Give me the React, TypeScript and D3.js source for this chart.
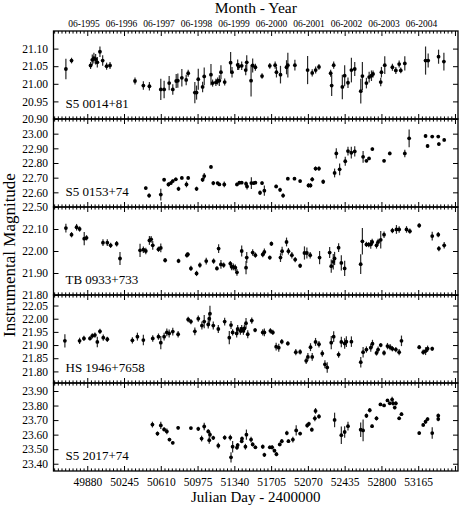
import React, { useEffect, useRef } from "react";
import * as d3 from "d3";

// each row: [JD - 2400000, instrumental magnitude, error]
const s5_0014: number[][] = [
  [49668, 21.042, 0.029], [49724, 21.066, 0.008], [49913, 21.052, 0.01], [49930, 21.068, 0.015],
  [49946, 21.073, 0.015], [49963, 21.07, 0.015], [49980, 21.061, 0.015], [50006, 21.091, 0.015],
  [50033, 21.066, 0.015], [50072, 21.05, 0.01], [50106, 21.052, 0.01], [50354, 21.008, 0.01],
  [50437, 20.995, 0.012], [50497, 20.993, 0.012], [50610, 20.984, 0.03], [50643, 20.984, 0.025],
  [50693, 21.002, 0.02], [50729, 20.984, 0.015], [50763, 21.008, 0.02], [50779, 21.009, 0.02],
  [50819, 21.017, 0.025], [50862, 21.011, 0.015], [50882, 21.03, 0.01], [50948, 20.975, 0.03],
  [50965, 20.975, 0.02], [50982, 21.013, 0.03], [51025, 20.991, 0.015], [51041, 21.021, 0.025],
  [51108, 21.026, 0.03], [51124, 21.002, 0.01], [51157, 21.004, 0.01], [51174, 21.008, 0.01],
  [51191, 21.009, 0.015], [51207, 21.033, 0.02], [51244, 21.005, 0.01], [51303, 21.06, 0.03],
  [51317, 21.033, 0.015], [51373, 21.054, 0.015], [51383, 21.049, 0.01], [51413, 21.051, 0.012],
  [51453, 21.039, 0.015], [51463, 21.061, 0.02], [51506, 21.009, 0.045], [51522, 21.052, 0.02],
  [51549, 21.047, 0.01], [51615, 21.022, 0.008], [51692, 21.051, 0.008], [51745, 21.053, 0.01],
  [51758, 21.033, 0.015], [51798, 21.026, 0.025], [51858, 21.047, 0.02], [51871, 21.053, 0.035],
  [51941, 21.053, 0.015], [52067, 21.039, 0.04], [52113, 21.031, 0.01], [52147, 21.039, 0.01],
  [52180, 21.048, 0.008], [52296, 21.03, 0.01], [52306, 20.995, 0.03], [52326, 21.053, 0.01],
  [52412, 20.991, 0.035], [52435, 21.023, 0.03], [52468, 21.003, 0.015], [52502, 21.039, 0.035],
  [52535, 21.042, 0.02], [52595, 20.979, 0.035], [52611, 21.022, 0.04], [52651, 21.002, 0.015],
  [52678, 21.019, 0.015], [52701, 21.023, 0.015], [52717, 21.028, 0.01], [52793, 21.005, 0.012],
  [52800, 21.033, 0.015], [52833, 21.053, 0.025], [52909, 21.047, 0.01], [52943, 21.038, 0.01],
  [52976, 21.056, 0.01], [52992, 21.038, 0.008], [53032, 21.058, 0.02], [53238, 21.066, 0.04],
  [53264, 21.066, 0.02], [53367, 21.077, 0.02], [53420, 21.063, 0.025],
];

const s5_0153: number[][] = [
  [50461, 22.629, 0.01], [50494, 22.578, 0.015], [50610, 22.585, 0.04], [50643, 22.686, 0.012],
  [50686, 22.654, 0.015], [50710, 22.663, 0.012], [50729, 22.677, 0.01], [50759, 22.689, 0.012],
  [50786, 22.624, 0.015], [50819, 22.698, 0.01], [50865, 22.654, 0.02], [50882, 22.698, 0.012],
  [50965, 22.624, 0.015], [51025, 22.686, 0.015], [51041, 22.711, 0.02], [51108, 22.773, 0.012],
  [51131, 22.663, 0.015], [51174, 22.663, 0.01], [51191, 22.654, 0.01], [51240, 22.654, 0.02],
  [51366, 22.654, 0.012], [51390, 22.666, 0.012], [51413, 22.666, 0.01], [51456, 22.659, 0.015],
  [51466, 22.64, 0.02], [51509, 22.663, 0.04], [51532, 22.663, 0.01], [51549, 22.666, 0.01],
  [51595, 22.597, 0.015], [51615, 22.663, 0.012], [51638, 22.611, 0.035], [51755, 22.64, 0.012],
  [51794, 22.617, 0.015], [51824, 22.578, 0.015], [51871, 22.693, 0.01], [51937, 22.693, 0.01],
  [51993, 22.677, 0.01], [52076, 22.647, 0.015], [52096, 22.647, 0.015], [52113, 22.689, 0.015],
  [52146, 22.762, 0.015], [52180, 22.762, 0.015], [52222, 22.672, 0.015], [52335, 22.732, 0.03],
  [52352, 22.865, 0.035], [52385, 22.757, 0.04], [52441, 22.812, 0.03], [52468, 22.881, 0.03],
  [52501, 22.87, 0.04], [52535, 22.879, 0.035], [52618, 22.842, 0.04], [52651, 22.815, 0.01],
  [52677, 22.831, 0.01], [52710, 22.895, 0.01], [52826, 22.815, 0.01], [52883, 22.865, 0.012],
  [53032, 22.865, 0.025], [53075, 22.968, 0.06], [53238, 22.984, 0.01], [53258, 22.916, 0.012],
  [53304, 22.98, 0.01], [53364, 22.98, 0.01], [53370, 22.929, 0.012], [53423, 22.957, 0.01],
];

const tb_0933: number[][] = [
  [49668, 22.104, 0.02], [49724, 22.074, 0.012], [49774, 22.108, 0.015], [49804, 22.1, 0.012],
  [49850, 22.056, 0.03], [49873, 22.06, 0.012], [50036, 22.038, 0.015], [50079, 22.038, 0.015],
  [50112, 22.026, 0.012], [50172, 22.033, 0.012], [50205, 21.966, 0.03], [50404, 22.003, 0.03],
  [50437, 22.006, 0.015], [50461, 22.0, 0.015], [50497, 22.048, 0.02], [50514, 22.053, 0.015],
  [50530, 22.026, 0.02], [50587, 22.008, 0.012], [50610, 22.014, 0.02], [50653, 21.958, 0.01],
  [50786, 21.955, 0.01], [50869, 21.981, 0.012], [50879, 21.985, 0.01], [50909, 21.921, 0.012],
  [50965, 21.898, 0.012], [50998, 21.936, 0.012], [51061, 21.954, 0.015], [51134, 21.954, 0.012],
  [51167, 21.921, 0.01], [51184, 22.011, 0.02], [51207, 21.939, 0.02], [51234, 21.936, 0.012],
  [51300, 21.943, 0.012], [51313, 21.928, 0.015], [51330, 21.928, 0.015], [51350, 21.924, 0.015],
  [51366, 21.903, 0.015], [51413, 22.0, 0.025], [51456, 21.924, 0.03], [51463, 21.97, 0.025],
  [51522, 21.993, 0.015], [51549, 21.981, 0.012], [51622, 21.984, 0.012], [51638, 21.996, 0.015],
  [51692, 21.97, 0.01], [51708, 22.033, 0.01], [51798, 21.97, 0.02], [51814, 21.999, 0.02],
  [51858, 22.041, 0.02], [51877, 21.999, 0.015], [51911, 21.981, 0.015], [51944, 21.961, 0.012],
  [51993, 21.933, 0.01], [52036, 21.991, 0.03], [52060, 21.991, 0.025], [52093, 21.981, 0.015],
  [52186, 21.97, 0.03], [52286, 21.993, 0.025], [52302, 21.931, 0.03], [52322, 21.951, 0.035],
  [52335, 21.966, 0.03], [52375, 22.015, 0.02], [52402, 21.946, 0.035], [52435, 21.921, 0.035],
  [52594, 21.94, 0.045], [52611, 22.044, 0.06], [52651, 22.03, 0.012], [52674, 22.029, 0.012],
  [52694, 22.03, 0.02], [52708, 22.041, 0.015], [52751, 22.026, 0.015], [52767, 22.041, 0.015],
  [52793, 22.051, 0.04], [52826, 22.074, 0.015], [52909, 22.093, 0.012], [52949, 22.098, 0.02],
  [52976, 22.098, 0.015], [53049, 22.098, 0.015], [53082, 22.09, 0.012], [53175, 22.116, 0.01],
  [53304, 22.068, 0.02], [53364, 22.074, 0.012], [53370, 22.011, 0.012], [53423, 22.026, 0.015],
];

const hs_1946: number[][] = [
  [49658, 21.916, 0.025], [49804, 21.916, 0.012], [49847, 21.925, 0.01], [49907, 21.925, 0.008],
  [49930, 21.935, 0.01], [49956, 21.938, 0.01], [49980, 21.912, 0.02], [50006, 21.952, 0.01],
  [50039, 21.928, 0.012], [50079, 21.922, 0.01], [50328, 21.918, 0.012], [50378, 21.932, 0.015],
  [50437, 21.919, 0.02], [50530, 21.925, 0.012], [50587, 21.932, 0.012], [50610, 21.909, 0.025],
  [50643, 21.932, 0.015], [50670, 21.948, 0.015], [50693, 21.944, 0.015], [50729, 21.951, 0.015],
  [50782, 21.941, 0.012], [50882, 21.997, 0.01], [50909, 21.989, 0.01], [50948, 21.952, 0.015],
  [50982, 22.0, 0.012], [51018, 21.974, 0.015], [51041, 21.989, 0.025], [51081, 21.978, 0.015],
  [51091, 22.0, 0.02], [51098, 22.019, 0.03], [51131, 21.974, 0.015], [51181, 21.961, 0.015],
  [51244, 21.989, 0.015], [51290, 21.928, 0.025], [51307, 21.976, 0.015], [51323, 21.948, 0.012],
  [51363, 21.944, 0.015], [51373, 21.961, 0.015], [51400, 21.954, 0.015], [51413, 21.961, 0.015],
  [51430, 21.954, 0.015], [51440, 21.963, 0.015], [51456, 21.983, 0.02], [51473, 21.941, 0.015],
  [51513, 21.993, 0.012], [51546, 21.957, 0.008], [51622, 21.948, 0.012], [51638, 21.948, 0.015],
  [51698, 21.954, 0.01], [51722, 21.948, 0.01], [51755, 21.894, 0.015], [51781, 21.89, 0.015],
  [51811, 21.913, 0.01], [51871, 21.906, 0.008], [51950, 21.873, 0.012], [51993, 21.874, 0.01],
  [52053, 21.84, 0.012], [52070, 21.855, 0.015], [52096, 21.892, 0.015], [52113, 21.855, 0.015],
  [52146, 21.912, 0.015], [52180, 21.903, 0.012], [52213, 21.868, 0.012], [52239, 21.827, 0.015],
  [52262, 21.815, 0.02], [52302, 21.909, 0.025], [52326, 21.932, 0.02], [52375, 21.864, 0.012],
  [52402, 21.912, 0.02], [52435, 21.906, 0.02], [52452, 21.913, 0.02], [52502, 21.913, 0.02],
  [52595, 21.835, 0.02], [52618, 21.873, 0.02], [52651, 21.883, 0.012], [52694, 21.89, 0.015],
  [52711, 21.905, 0.015], [52751, 21.87, 0.01], [52767, 21.883, 0.012], [52793, 21.9, 0.008],
  [52826, 21.87, 0.01], [52860, 21.896, 0.012], [52886, 21.892, 0.012], [52909, 21.886, 0.01],
  [52943, 21.883, 0.01], [52976, 21.873, 0.012], [52999, 21.916, 0.02], [53175, 21.892, 0.008],
  [53215, 21.873, 0.01], [53238, 21.877, 0.015], [53258, 21.886, 0.012], [53304, 21.886, 0.008],
];

const s5_2017: number[][] = [
  [50527, 23.669, 0.02], [50577, 23.607, 0.015], [50610, 23.663, 0.025], [50643, 23.636, 0.015],
  [50670, 23.622, 0.02], [50696, 23.566, 0.012], [50729, 23.544, 0.01], [50782, 23.647, 0.012],
  [50909, 23.645, 0.01], [50982, 23.64, 0.015], [51015, 23.573, 0.02], [51041, 23.656, 0.025],
  [51081, 23.622, 0.015], [51091, 23.562, 0.025], [51098, 23.6, 0.02], [51131, 23.578, 0.015],
  [51181, 23.524, 0.02], [51244, 23.58, 0.015], [51300, 23.58, 0.02], [51307, 23.444, 0.035],
  [51323, 23.517, 0.04], [51366, 23.511, 0.015], [51373, 23.528, 0.015], [51413, 23.555, 0.015],
  [51416, 23.573, 0.015], [51450, 23.517, 0.02], [51460, 23.6, 0.035], [51506, 23.566, 0.02],
  [51522, 23.533, 0.015], [51549, 23.513, 0.012], [51622, 23.517, 0.015], [51638, 23.461, 0.015],
  [51692, 23.513, 0.012], [51715, 23.513, 0.015], [51738, 23.49, 0.012], [51758, 23.466, 0.015],
  [51791, 23.533, 0.012], [51811, 23.555, 0.015], [51861, 23.611, 0.015], [51877, 23.555, 0.012],
  [51921, 23.566, 0.02], [51954, 23.629, 0.035], [51993, 23.607, 0.012], [52063, 23.663, 0.015],
  [52080, 23.674, 0.015], [52109, 23.634, 0.015], [52139, 23.712, 0.02], [52146, 23.763, 0.02],
  [52180, 23.725, 0.015], [52335, 23.701, 0.05], [52402, 23.596, 0.06], [52435, 23.618, 0.04],
  [52468, 23.658, 0.03], [52594, 23.634, 0.05], [52618, 23.629, 0.075], [52651, 23.73, 0.015],
  [52684, 23.768, 0.015], [52707, 23.658, 0.012], [52751, 23.712, 0.015], [52790, 23.808, 0.01],
  [52826, 23.801, 0.01], [52860, 23.835, 0.01], [52883, 23.815, 0.012], [52906, 23.841, 0.02],
  [52916, 23.815, 0.015], [52932, 23.786, 0.012], [52943, 23.815, 0.015], [52976, 23.712, 0.012],
  [52999, 23.741, 0.012], [53175, 23.611, 0.012], [53215, 23.667, 0.012], [53238, 23.689, 0.015],
  [53258, 23.707, 0.012], [53304, 23.611, 0.04], [53364, 23.707, 0.015], [53364, 23.73, 0.015],
];

const sourceNames = ["S5 0014+81", "S5 0153+74", "TB 0933+733", "HS 1946+7658", "S5 2017+74"];
const sourceData = [s5_0014, s5_0153, tb_0933, hs_1946, s5_2017];
const yDomains = [[20.9, 21.15], [22.5, 23.1], [21.8, 22.2], [21.756, 22.09], [23.35, 23.955]];
const yTicks = [
  [20.9, 20.95, 21.0, 21.05, 21.1],
  [22.5, 22.6, 22.7, 22.8, 22.9, 23.0],
  [21.8, 21.9, 22.0, 22.1],
  [21.8, 21.85, 21.9, 21.95, 22.0, 22.05],
  [23.4, 23.5, 23.6, 23.7, 23.8, 23.9],
];

const xMajor = [49880, 50245, 50610, 50975, 51340, 51705, 52070, 52435, 52800, 53165, 53530];
const xLabeled = [49880, 50245, 50610, 50975, 51340, 51705, 52070, 52435, 52800, 53165];
const monthLabels = [
  "06-1995", "06-1996", "06-1997", "06-1998", "06-1999",
  "06-2000", "06-2001", "06-2002", "06-2003", "06-2004",
];

const W = 463;
const H = 507;
const left = 53.5;
const right = 458;
const top = 31;
const bottom = 471;
const serif = "'Liberation Serif', 'Times New Roman', serif";

export default function App() {
  const svgRef = useRef<SVGSVGElement>(null);

  useEffect(() => {
    const svgEl = d3.select(svgRef.current);
    svgEl.selectAll("*").remove();

    const x = d3.scaleLinear().domain([49545, 53560]).range([left, right]);
    const panelH = (bottom - top) / sourceData.length;

    // minor ticks every tenth of a year
    const xMinor = d3
      .range(49880 - 365, 53600, 36.5)
      .filter((d) => d > 49545 && d < 53560)
      .filter((d) => !xMajor.some((m) => Math.abs(m - d) < 1));

    sourceData.forEach((data, i) => {
      const y0 = top + i * panelH;
      const y1 = y0 + panelH;
      const y = d3.scaleLinear().domain(yDomains[i]).range([y1, y0]);
      const g = svgEl.append("g");

      // error bars
      g.append("g")
        .selectAll("line")
        .data(data)
        .join("line")
        .attr("x1", (d) => x(d[0]))
        .attr("x2", (d) => x(d[0]))
        .attr("y1", (d) => y(d[1] - d[2]))
        .attr("y2", (d) => y(d[1] + d[2]))
        .attr("stroke", "#2a2a2a")
        .attr("stroke-width", 1.2);

      g.append("g")
        .selectAll("circle")
        .data(data)
        .join("circle")
        .attr("cx", (d) => x(d[0]))
        .attr("cy", (d) => y(d[1]))
        .attr("r", 1.9)
        .attr("fill", "#000");

      const isLast = i === sourceData.length - 1;

      const bottomAxis = g
        .append("g")
        .attr("transform", `translate(0,${y1})`)
        .call(
          d3
            .axisBottom(x)
            .tickValues(xMajor)
            .tickSize(-5)
            .tickPadding(6.5)
            .tickFormat((d) => (isLast && xLabeled.includes(+d) ? String(d) : ""))
        );
      g.append("g")
        .attr("transform", `translate(0,${y1})`)
        .call(d3.axisBottom(x).tickValues(xMinor).tickSize(-2.6).tickFormat(() => ""));

      g.append("g")
        .attr("transform", `translate(0,${y0})`)
        .call(d3.axisTop(x).tickValues(xMajor).tickSize(-5).tickFormat(() => ""));
      g.append("g")
        .attr("transform", `translate(0,${y0})`)
        .call(d3.axisTop(x).tickValues(xMinor).tickSize(-2.6).tickFormat(() => ""));

      const leftAxis = g
        .append("g")
        .attr("transform", `translate(${left},0)`)
        .call(
          d3
            .axisLeft(y)
            .tickValues(yTicks[i])
            .tickSize(-5)
            .tickPadding(5.5)
            .tickFormat(d3.format(".2f"))
        );
      g.append("g")
        .attr("transform", `translate(${right},0)`)
        .call(d3.axisRight(y).tickValues(yTicks[i]).tickSize(-5).tickFormat(() => ""));

      g.selectAll(".domain").remove();
      g.selectAll(".tick line").attr("stroke", "#000").attr("stroke-width", 1);

      leftAxis
        .selectAll("text")
        .attr("font-family", serif)
        .attr("font-size", 11.5)
        .attr("fill", "#000");
      bottomAxis
        .selectAll("text")
        .attr("font-family", serif)
        .attr("font-size", 11.5)
        .attr("fill", "#000");

      g.append("rect")
        .attr("x", left)
        .attr("y", y0)
        .attr("width", right - left)
        .attr("height", panelH)
        .attr("fill", "none")
        .attr("stroke", "#000")
        .attr("stroke-width", 1.3);

      g.append("text")
        .attr("x", left + 12)
        .attr("y", y1 - 11.5)
        .attr("font-family", serif)
        .attr("font-size", 13)
        .attr("fill", "#000")
        .text(sourceNames[i]);
    });

    // month - year labels along the top
    const xMonth = d3.scalePoint().domain(monthLabels).range([84, 421.5]);
    svgEl
      .append("g")
      .selectAll("text")
      .data(monthLabels)
      .join("text")
      .attr("x", (d) => xMonth(d) as number)
      .attr("y", 26.5)
      .attr("text-anchor", "middle")
      .attr("font-family", serif)
      .attr("font-size", 9.5)
      .attr("fill", "#000")
      .text((d) => d);

    svgEl
      .append("text")
      .attr("x", (left + right) / 2)
      .attr("y", 12.5)
      .attr("text-anchor", "middle")
      .attr("font-family", serif)
      .attr("font-size", 15.5)
      .attr("fill", "#000")
      .text("Month - Year");

    svgEl
      .append("text")
      .attr("x", (left + right) / 2)
      .attr("y", 502)
      .attr("text-anchor", "middle")
      .attr("font-family", serif)
      .attr("font-size", 15)
      .attr("fill", "#000")
      .text("Julian Day - 2400000");

    svgEl
      .append("text")
      .attr("transform", `translate(15,${(top + bottom) / 2 + 4}) rotate(-90)`)
      .attr("text-anchor", "middle")
      .attr("font-family", serif)
      .attr("font-size", 17)
      .attr("fill", "#000")
      .text("Instrumental Magnitude");
  }, []);

  return (
    <svg
      ref={svgRef}
      width={W}
      height={H}
      style={{ position: "absolute", left: 0, top: 0, background: "#fff" }}
    />
  );
}
